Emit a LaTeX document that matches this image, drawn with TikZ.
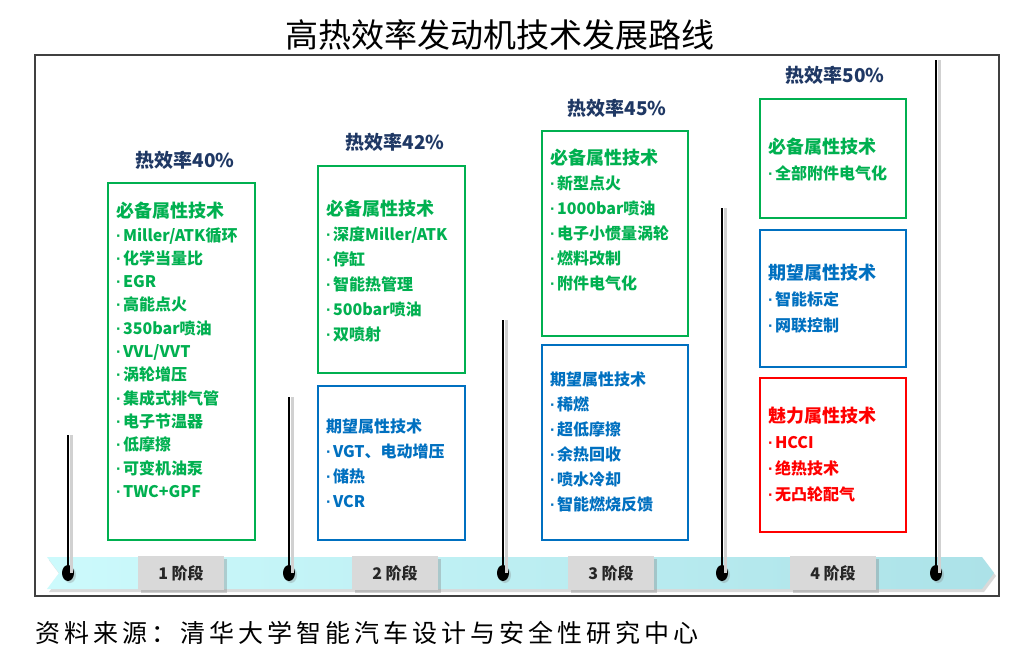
\documentclass[tikz,border=0pt]{standalone}
\usepackage{fontspec}
\usepackage{xcolor}
\usepackage{tikz}
\usetikzlibrary{shapes.geometric, positioning, calc, shadows}
\newfontfamily\cjk{Noto Sans CJK SC}
\newfontfamily\latinb{Liberation Sans}
\definecolor{mygreen}{RGB}{0,176,80}
\definecolor{myblue}{RGB}{0,112,192}
\definecolor{myred}{RGB}{255,0,0}
\definecolor{mynavy}{RGB}{31,56,100}
\definecolor{mydark}{RGB}{38,38,38}
\definecolor{myframe}{RGB}{64,64,64}
\definecolor{mystage}{RGB}{217,217,217}
\definecolor{bandleft}{RGB}{204,250,252}
\definecolor{bandright}{RGB}{172,226,232}
\tikzset{
  reqbox/.style={rectangle, draw=mygreen, line width=2.5pt, inner sep=0pt,
    outer sep=0pt, anchor=north west},
  expbox/.style={reqbox, draw=myblue},
  charmbox/.style={reqbox, draw=myred},
  boxtxt/.style={anchor=north west, inner sep=0pt, align=left,
    font=\cjk\bfseries\fontsize{16}{25}\selectfont},
  reqtxt/.style={boxtxt, text=mygreen},
  exptxt/.style={boxtxt, text=myblue},
  charmtxt/.style={boxtxt, text=myred},
  hdr/.style={font=\cjk\bfseries\fontsize{19}{22}\selectfont, text=mynavy},
  stagebox/.style={rectangle, fill=mystage, minimum width=86pt,
    minimum height=34pt, inner sep=0pt, text=mydark,
    font=\cjk\bfseries\fontsize{16}{20}\selectfont,
    drop shadow={shadow xshift=3pt, shadow yshift=-3pt, opacity=0.35}},
  tdot/.style={ellipse, fill=black, minimum width=12pt, minimum height=16pt,
    inner sep=0pt,
    drop shadow={shadow xshift=2pt, shadow yshift=-2pt, opacity=0.3}},
  stem/.style={line width=2.5pt, color=black},
  stemshade/.style={line width=3pt, color=black!18}
}
\newcommand{\ttl}[1]{{\fontsize{18}{25}\selectfont #1}}
\newcommand{\bul}{{\latinb\bfseries ·}\kern1.5pt}

\begin{document}
\begin{tikzpicture}[x=1pt, y=-1pt]
  \useasboundingbox (0,0) rectangle (1017,667);
  \fill[white] (0,0) rectangle (1017,667);

  % --- title and frame ---
  \node[font=\cjk\fontsize{33}{38}\selectfont] (title) at (500,35) {高热效率发动机技术发展路线};
  \draw[line width=2pt, color=myframe] (34.5,54.5) rectangle (999,595.5);

  % --- time band ---
  \fill[black!15] (49,560) -- (984,560) -- (996,576) -- (984,592) -- (49,592) -- (61,576) -- cycle;
  \shade[left color=bandleft, right color=bandright]
    (47,557) -- (982,557) -- (994,573) -- (982,589) -- (47,589) -- (59,573) -- cycle;

  \node[stagebox] (s1) at (181,573) {1 阶段};
  \node[stagebox] (s2) at (395,573) {2 阶段};
  \node[stagebox] (s3) at (611,573) {3 阶段};
  \node[stagebox] (s4) at (833,573) {4 阶段};

  % --- stems ---
  \coordinate (t1) at (68,435);
  \coordinate (t2) at (289,397);
  \coordinate (t3) at (503,320);
  \coordinate (t4) at (722,208);
  \coordinate (t5) at (936,60);
  \node[tdot] (d1) at (68,573) {};
  \node[tdot] (d2) at (289,573) {};
  \node[tdot] (d3) at (503,573) {};
  \node[tdot] (d4) at (722,573) {};
  \node[tdot] (d5) at (936,573) {};
  \foreach \i in {1,...,5} {
    \draw[stemshade] ([xshift=3pt]d\i.center) -- ([xshift=3pt]t\i);
    \draw[stem] (d\i.center) -- (t\i);
  }

  % --- stage 1 ---
  \node[hdr] (h1) at (185,160) {热效率40\%};
  \node[reqbox, minimum width=147pt, minimum height=357pt] (req1) at (108,183) {};
  \node[reqtxt, font=\cjk\bfseries\fontsize{16}{23.3}\selectfont] (req1txt) at (116,202) {%
    \ttl{必备属性技术}\\
    \bul Miller/ATK循环\\
    \bul 化学当量比\\
    \bul EGR\\
    \bul 高能点火\\
    \bul 350bar喷油\\
    \bul VVL/VVT\\
    \bul 涡轮增压\\
    \bul 集成式排气管\\
    \bul 电子节温器\\
    \bul 低摩擦\\
    \bul 可变机油泵\\
    \bul TWC+GPF};

  % --- stage 2 ---
  \node[hdr] (h2) at (395,142) {热效率42\%};
  \node[reqbox, minimum width=147pt, minimum height=207pt] (req2) at (318,166) {};
  \node[reqtxt] (req2txt) at (326,200) {%
    \ttl{必备属性技术}\\
    \bul 深度Miller/ATK\\
    \bul 停缸\\
    \bul 智能热管理\\
    \bul 500bar喷油\\
    \bul 双喷射};
  \node[expbox, minimum width=147pt, minimum height=154pt] (exp2) at (318,386) {};
  \node[exptxt] (exp2txt) at (326,419) {%
    期望属性技术\\
    \bul VGT、电动增压\\
    \bul 储热\\
    \bul VCR};

  % --- stage 3 ---
  \node[hdr] (h3) at (617,108) {热效率45\%};
  \node[reqbox, minimum width=146pt, minimum height=205pt] (req3) at (542,131) {};
  \node[reqtxt] (req3txt) at (550,149) {%
    \ttl{必备属性技术}\\
    \bul 新型点火\\
    \bul 1000bar喷油\\
    \bul 电子小惯量涡轮\\
    \bul 燃料改制\\
    \bul 附件电气化};
  \node[expbox, minimum width=146pt, minimum height=195pt] (exp3) at (542,345) {};
  \node[exptxt] (exp3txt) at (550,372) {%
    期望属性技术\\
    \bul 稀燃\\
    \bul 超低摩擦\\
    \bul 余热回收\\
    \bul 喷水冷却\\
    \bul 智能燃烧反馈};

  % --- stage 4 ---
  \node[hdr] (h4) at (835,75) {热效率50\%};
  \node[reqbox, minimum width=146pt, minimum height=119pt] (req4) at (760,99) {};
  \node[reqtxt, font=\cjk\bfseries\fontsize{16}{26}\selectfont] (req4txt) at (768,138) {%
    \ttl{必备属性技术}\\
    \bul 全部附件电气化};
  \node[expbox, minimum width=146pt, minimum height=137pt] (exp4) at (760,230) {};
  \node[exptxt, font=\cjk\bfseries\fontsize{16}{26}\selectfont] (exp4txt) at (768,264) {%
    \ttl{期望属性技术}\\
    \bul 智能标定\\
    \bul 网联控制};
  \node[charmbox, minimum width=146pt, minimum height=154pt] (charm4) at (760,378) {};
  \node[charmtxt, font=\cjk\bfseries\fontsize{16}{26}\selectfont] (charm4txt) at (768,407) {%
    \ttl{魅力属性技术}\\
    \bul HCCI\\
    \bul 绝热技术\\
    \bul 无凸轮配气};

  % --- source ---
  \node[anchor=west, inner sep=0pt, font=\cjk\fontsize{25}{30}\selectfont\addfontfeatures{LetterSpace=16}] (src) at (35,633)
    {资料来源：清华大学智能汽车设计与安全性研究中心};
\end{tikzpicture}
\end{document}
